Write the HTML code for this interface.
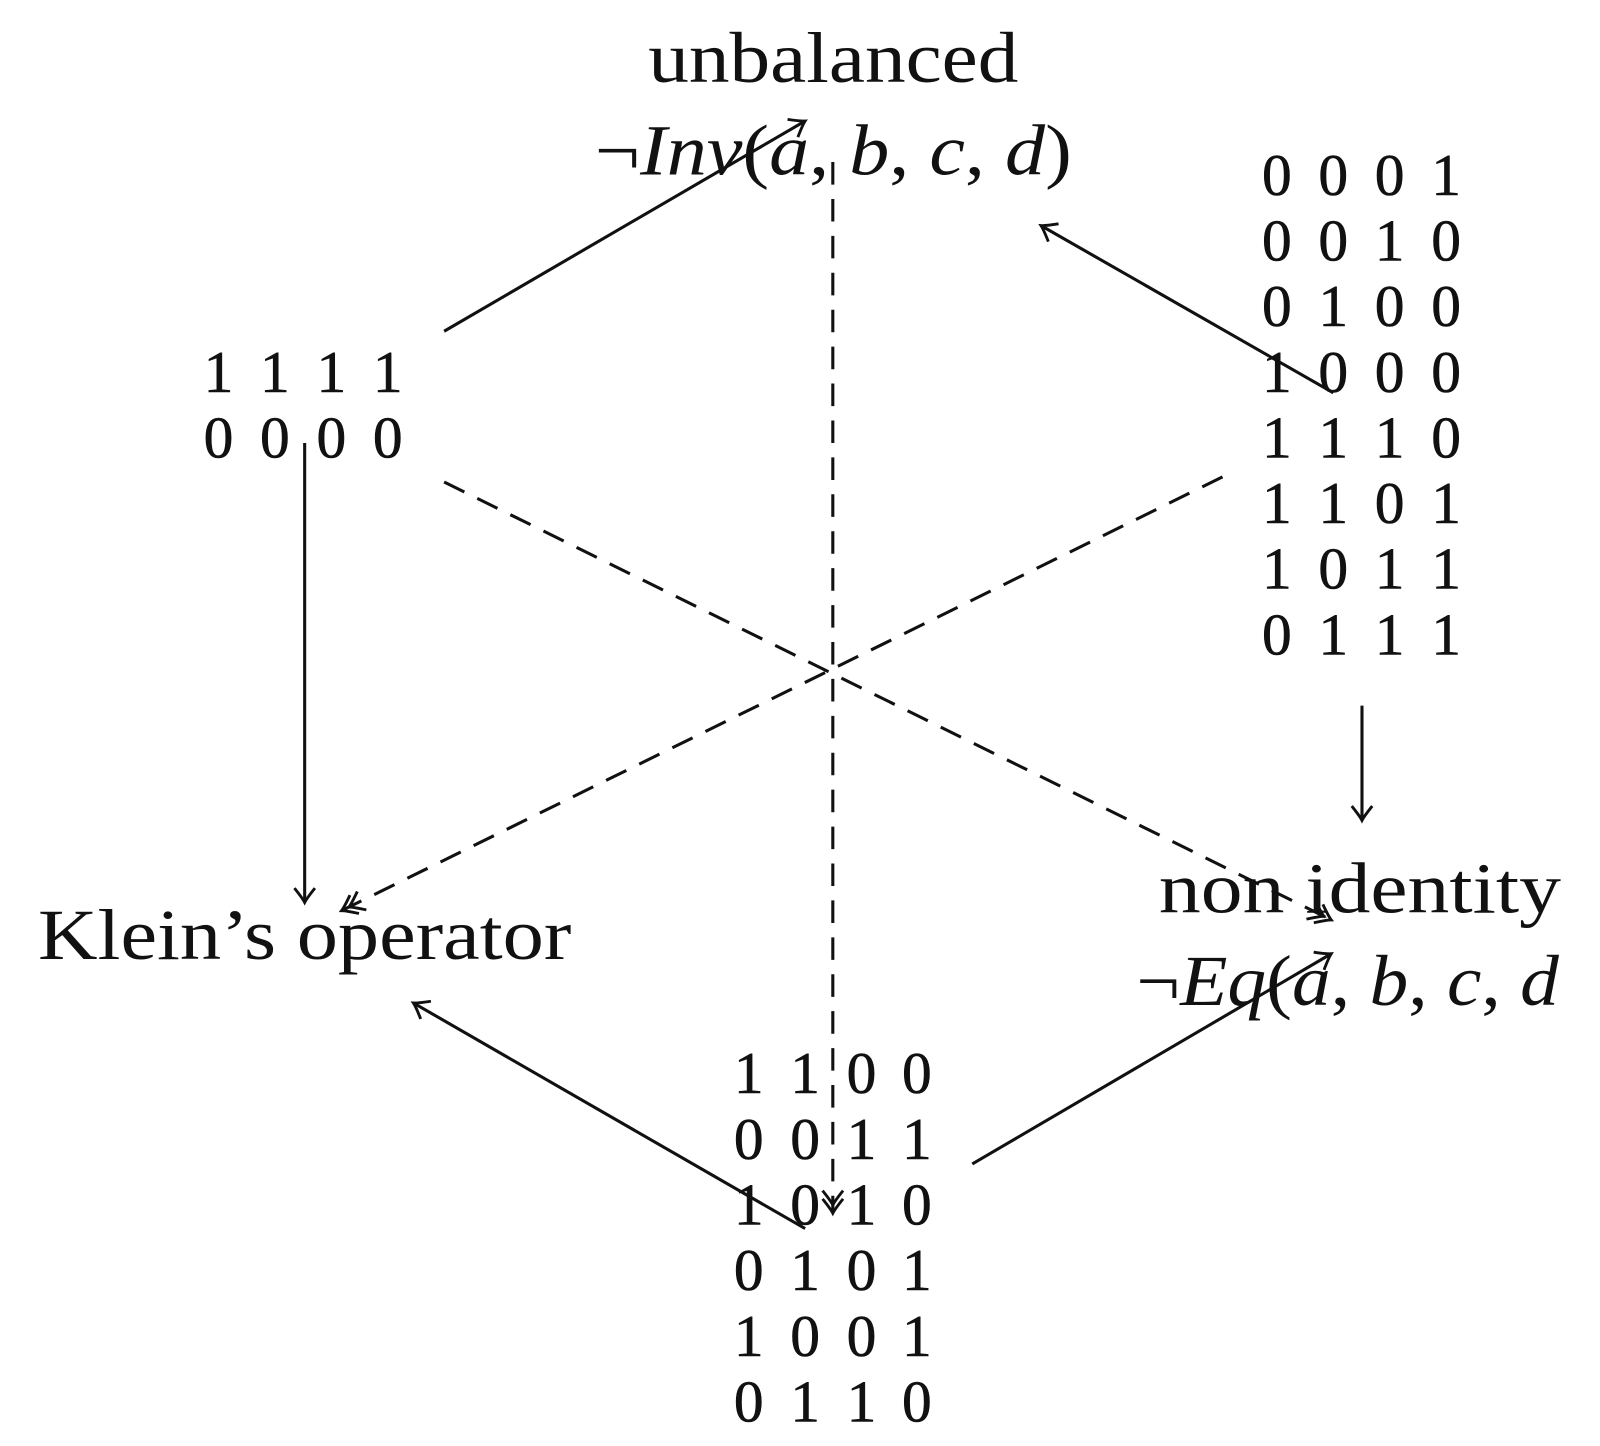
<!DOCTYPE html>
<html><head><meta charset="utf-8"><style>
html,body{margin:0;padding:0;background:#fff;}
svg{display:block;}
text{font-family:"Liberation Serif",serif;fill:#111;}
.m{font-size:58px;text-anchor:middle;stroke:#111;stroke-width:0.6;}
.l{font-size:70px;}
.i{font-style:italic;}
</style></head><body>
<svg width="1600" height="1446" viewBox="0 0 1560 1410" xmlns="http://www.w3.org/2000/svg">
<defs>
<marker id="a" markerWidth="30" markerHeight="30" refX="0" refY="0" viewBox="-20 -15 30 30" orient="auto" markerUnits="userSpaceOnUse">
<path d="M-14,-10 Q-4,-2 0,0 Q-4,2 -14,10" fill="none" stroke="#111" stroke-width="2.8"/>
</marker>
<marker id="d" markerWidth="40" markerHeight="30" refX="0" refY="0" viewBox="-30 -15 40 30" orient="auto" markerUnits="userSpaceOnUse">
<path d="M-14,-10 Q-4,-2 0,0 Q-4,2 -14,10 M-22,-10 Q-12,-2 -8,0 Q-12,2 -22,10" fill="none" stroke="#111" stroke-width="2.8"/>
</marker>
</defs>
<g stroke="#111" stroke-width="3" fill="none">
<line x1="433" y1="323" x2="785" y2="118" marker-end="url(#a)"/>
<line x1="1300" y1="383" x2="1015" y2="220" marker-end="url(#a)"/>
<line x1="1328" y1="688" x2="1328" y2="800" marker-end="url(#a)"/>
<line x1="297" y1="432" x2="297" y2="880" marker-end="url(#a)"/>
<line x1="785" y1="1198" x2="403" y2="978" marker-end="url(#a)"/>
<line x1="948" y1="1135" x2="1298" y2="930" marker-end="url(#a)"/>
<g stroke-dasharray="22,14">
<line x1="812" y1="158" x2="812" y2="1183" marker-end="url(#d)"/>
<line x1="433" y1="470" x2="1298" y2="897" marker-end="url(#d)"/>
<line x1="1192" y1="465" x2="333" y2="888" marker-end="url(#d)"/>
</g>
</g>
<text class="l" x="632" y="80" textLength="361" lengthAdjust="spacingAndGlyphs">unbalanced</text>
<text class="l" x="580" y="170" textLength="465" lengthAdjust="spacingAndGlyphs">¬<tspan class="i">Inv</tspan>(<tspan class="i">a</tspan>, <tspan class="i">b</tspan>, <tspan class="i">c</tspan>, <tspan class="i">d</tspan>)</text>
<text class="l" x="37" y="935" textLength="520" lengthAdjust="spacingAndGlyphs">Klein’s operator</text>
<text class="l" x="1130" y="890" textLength="392" lengthAdjust="spacingAndGlyphs">non identity</text>
<text class="l" x="1108" y="980" textLength="412" lengthAdjust="spacingAndGlyphs">¬<tspan class="i">Eq</tspan>(<tspan class="i">a</tspan>, <tspan class="i">b</tspan>, <tspan class="i">c</tspan>, <tspan class="i">d</tspan></text>
<g>
<text x="1245" y="190" class="m">0</text><text x="1300" y="190" class="m">0</text><text x="1355" y="190" class="m">0</text><text x="1410" y="190" class="m">1</text>
<text x="1245" y="254" class="m">0</text><text x="1300" y="254" class="m">0</text><text x="1355" y="254" class="m">1</text><text x="1410" y="254" class="m">0</text>
<text x="1245" y="318" class="m">0</text><text x="1300" y="318" class="m">1</text><text x="1355" y="318" class="m">0</text><text x="1410" y="318" class="m">0</text>
<text x="1245" y="382" class="m">1</text><text x="1300" y="382" class="m">0</text><text x="1355" y="382" class="m">0</text><text x="1410" y="382" class="m">0</text>
<text x="1245" y="446" class="m">1</text><text x="1300" y="446" class="m">1</text><text x="1355" y="446" class="m">1</text><text x="1410" y="446" class="m">0</text>
<text x="1245" y="510" class="m">1</text><text x="1300" y="510" class="m">1</text><text x="1355" y="510" class="m">0</text><text x="1410" y="510" class="m">1</text>
<text x="1245" y="574" class="m">1</text><text x="1300" y="574" class="m">0</text><text x="1355" y="574" class="m">1</text><text x="1410" y="574" class="m">1</text>
<text x="1245" y="638" class="m">0</text><text x="1300" y="638" class="m">1</text><text x="1355" y="638" class="m">1</text><text x="1410" y="638" class="m">1</text>

<text x="213" y="382" class="m">1</text><text x="268" y="382" class="m">1</text><text x="323" y="382" class="m">1</text><text x="378" y="382" class="m">1</text>
<text x="213" y="446" class="m">0</text><text x="268" y="446" class="m">0</text><text x="323" y="446" class="m">0</text><text x="378" y="446" class="m">0</text>

<text x="730" y="1066" class="m">1</text><text x="785" y="1066" class="m">1</text><text x="840" y="1066" class="m">0</text><text x="894" y="1066" class="m">0</text>
<text x="730" y="1130" class="m">0</text><text x="785" y="1130" class="m">0</text><text x="840" y="1130" class="m">1</text><text x="894" y="1130" class="m">1</text>
<text x="730" y="1194" class="m">1</text><text x="785" y="1194" class="m">0</text><text x="840" y="1194" class="m">1</text><text x="894" y="1194" class="m">0</text>
<text x="730" y="1258" class="m">0</text><text x="785" y="1258" class="m">1</text><text x="840" y="1258" class="m">0</text><text x="894" y="1258" class="m">1</text>
<text x="730" y="1322" class="m">1</text><text x="785" y="1322" class="m">0</text><text x="840" y="1322" class="m">0</text><text x="894" y="1322" class="m">1</text>
<text x="730" y="1386" class="m">0</text><text x="785" y="1386" class="m">1</text><text x="840" y="1386" class="m">1</text><text x="894" y="1386" class="m">0</text>
</g>
</svg>
</body></html>
